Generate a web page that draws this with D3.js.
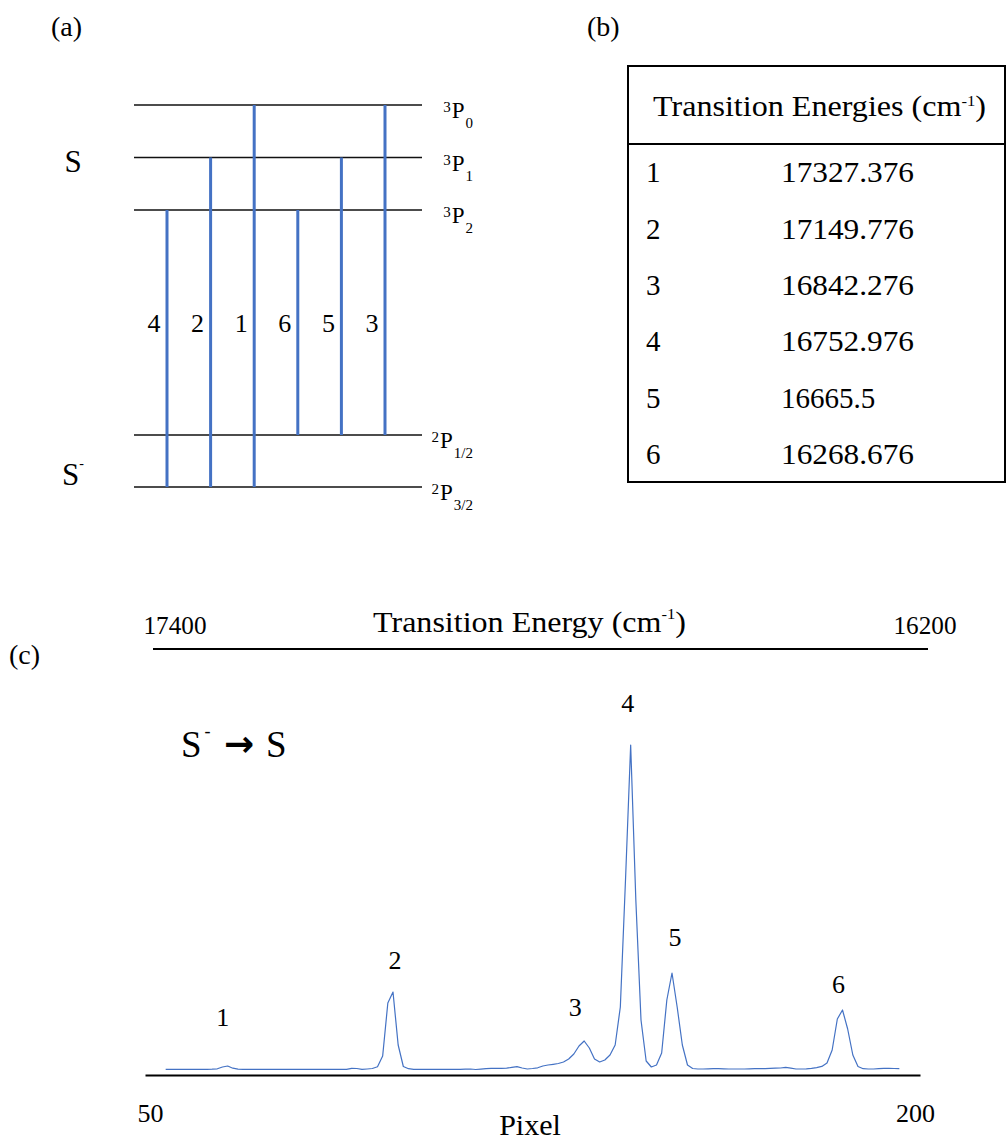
<!DOCTYPE html>
<html>
<head>
<meta charset="utf-8">
<script src="https://cdn.jsdelivr.net/npm/d3@7"></script>
<style>
  html, body { margin: 0; padding: 0; background: #fff; }
  svg text { font-family: "Liberation Serif", "DejaVu Serif", serif; }
  svg text.arrow { font-family: "DejaVu Sans", sans-serif; font-weight: bold; }
</style>
</head>
<body>
<script>
// ---------- data ----------
// Term levels of neutral S (upper) and S- (lower), bottom to top
const neutralTerms = [
  { mult: "3", L: "P", J: "2" },
  { mult: "3", L: "P", J: "1" },
  { mult: "3", L: "P", J: "0" }
];
const anionTerms = [
  { mult: "2", L: "P", J: "3/2" },
  { mult: "2", L: "P", J: "1/2" }
];

// Transitions: lower (anion) level -> upper (neutral) level
const transitionIds   = [1, 2, 3, 4, 5, 6];
const transitionLower = ["3/2", "3/2", "1/2", "3/2", "1/2", "1/2"];
const transitionUpper = ["0", "1", "0", "2", "1", "2"];
const transitionEnergies = ["17327.376", "17149.776", "16842.276", "16752.976", "16665.5", "16268.676"];

// left-to-right order of the arrows in the level diagram
const diagramOrder = [4, 2, 1, 6, 5, 3];

// Detector spectrum: intensity (a.u.) for pixels 54..196
const firstPixel = 54;
const intensity = [
  5.7, 5.7, 5.7, 5.7, 5.7, 5.7, 5.7, 5.7, 5.7, 5.8,
  6.2, 8, 9, 6.8, 5.8,
  5.7, 5.7, 5.7, 5.7, 5.7, 5.7, 5.7, 5.7, 5.7, 5.7, 5.7,
  5.7, 5.7, 5.7, 5.7, 5.7, 5.7, 5.7, 5.7, 5.7, 5.7,
  6.7, 6.5, 5.6, 6, 6.5, 8.3, 19, 72, 83, 30, 8.5, 6.3,
  5.7, 5.6, 5.6, 5.6, 5.6, 5.6, 5.6, 5.6, 5.7, 5.7, 5.8,
  6, 5.5, 5.9, 6.3, 6.7, 6.7, 6.7, 6.8, 7.6, 8.3,
  7, 6, 6.5, 7.2, 9, 10, 10.7, 11.5, 13, 16,
  21, 29, 34, 27, 16, 13, 15, 20, 30, 68,
  195, 330, 175, 55, 14, 8, 10, 22, 75, 102,
  68, 30, 10, 6.5,
  6, 6, 6.2, 6.3, 6.3, 6.2, 6, 6, 6, 6, 6.2, 6.3, 6.4, 6.4, 6.6, 6.8, 7,
  7.6, 6.8, 6, 6, 6.2, 6.6, 7.4, 8.6, 12, 25,
  56, 65, 46, 20, 8.5, 6.3, 6, 6, 6.4, 6.6,
  6.6, 6.5, 6.3
];

// pixel at which each numbered line peaks
const peakPixels = [66, 98, 135, 144, 152, 185];

// axis ticks
const pixelTicks = [50, 200];
const energyTicks = [17400, 16200];

// ---------- drawing ----------
const W = 1006, H = 1142;
const blue = "#4472c4";
const serif = "Liberation Serif, DejaVu Serif, serif";
const svg = d3.select("body").append("svg")
  .attr("width", W).attr("height", H)
  .attr("font-family", serif);
svg.append("rect").attr("width", W).attr("height", H).attr("fill", "#fff");

// panel letters
svg.append("text").attr("x", 51).attr("y", 36).attr("font-size", 28).text("(a)");
svg.append("text").attr("x", 587).attr("y", 36).attr("font-size", 28).text("(b)");
svg.append("text").attr("x", 9).attr("y", 664).attr("font-size", 28).text("(c)");

// ===== (a) energy level diagram =====
const gA = svg.append("g");
const termKey = t => t.J;
const yNeutral = d3.scalePoint().domain(neutralTerms.map(termKey)).range([210, 105]);
const yAnion = d3.scalePoint().domain(anionTerms.map(termKey)).range([487, 435]);
const xTrans = d3.scalePoint().domain(diagramOrder).range([167, 385]);
const levelX0 = 134, levelX1 = 422;

const levels = neutralTerms.map(t => ({ t, y: yNeutral(t.J) }))
  .concat(anionTerms.map(t => ({ t, y: yAnion(t.J) })));

gA.selectAll("line.level").data(levels).join("line")
  .attr("class", "level")
  .attr("x1", levelX0).attr("x2", levelX1)
  .attr("y1", d => d.y).attr("y2", d => d.y)
  .attr("stroke", "#111").attr("stroke-width", 1.5);

// term symbols: superscript multiplicity, L, subscript J
levels.forEach(d => {
  const txt = gA.append("text")
    .attr("x", 473).attr("y", d.y + 13)
    .attr("text-anchor", "end");
  txt.append("tspan").attr("font-size", 15).attr("dy", -6).text(d.t.mult);
  txt.append("tspan").attr("font-size", 23).attr("dy", 6).attr("dx", 1).text(d.t.L);
  txt.append("tspan").attr("font-size", 15).attr("dy", 10).attr("dx", 1).text(d.t.J);
});

// species labels
gA.append("text").attr("x", 73).attr("y", yNeutral("1") + 14)
  .attr("text-anchor", "middle").attr("font-size", 31).text("S");
const sMinus = gA.append("text").attr("x", 62).attr("y", yAnion("3/2") - 2).attr("font-size", 31);
sMinus.append("tspan").text("S");
sMinus.append("tspan").attr("font-size", 14).attr("dy", -17).text("-");

const transitions = transitionIds.map((id, i) => ({
  id, lower: transitionLower[i], upper: transitionUpper[i], energy: transitionEnergies[i]
}));

gA.selectAll("line.trans").data(transitions).join("line")
  .attr("class", "trans")
  .attr("x1", d => xTrans(d.id)).attr("x2", d => xTrans(d.id))
  .attr("y1", d => yAnion(d.lower)).attr("y2", d => yNeutral(d.upper))
  .attr("stroke", blue).attr("stroke-width", 3);

gA.selectAll("text.tnum").data(transitions).join("text")
  .attr("class", "tnum")
  .attr("x", d => xTrans(d.id) - 13).attr("y", 332)
  .attr("text-anchor", "middle").attr("font-size", 26)
  .text(d => d.id);

// ===== (b) table of transition energies =====
const gB = svg.append("g");
const tblX0 = 628, tblX1 = 1005, tblY0 = 66, tblY1 = 482, headY = 144;
gB.append("rect").attr("x", tblX0).attr("y", tblY0)
  .attr("width", tblX1 - tblX0).attr("height", tblY1 - tblY0)
  .attr("fill", "none").attr("stroke", "#000").attr("stroke-width", 2);
gB.append("line").attr("x1", tblX0).attr("x2", tblX1)
  .attr("y1", headY).attr("y2", headY)
  .attr("stroke", "#000").attr("stroke-width", 2);

const head = gB.append("text").attr("x", 653).attr("y", 116).attr("font-size", 29)
  .attr("textLength", 333).attr("lengthAdjust", "spacingAndGlyphs");
head.append("tspan").text("Transition Energies (cm");
head.append("tspan").attr("font-size", 15).attr("dy", -10).text("-1");
head.append("tspan").attr("dy", 10).text(")");

const rowScale = d3.scaleBand().domain(transitionIds).range([headY, tblY1]);
const rows = gB.selectAll("g.row").data(transitions).join("g")
  .attr("class", "row")
  .attr("transform", d => `translate(0,${rowScale(d.id) + rowScale.bandwidth() / 2 + 10})`);
rows.append("text").attr("x", 646).attr("font-size", 29).text(d => d.id);
rows.append("text").attr("x", 781).attr("font-size", 29)
  .attr("textLength", 133).attr("lengthAdjust", "spacingAndGlyphs")
  .text(d => d.energy)
  .each(function (d) { if (d.energy.length < 9) d3.select(this).attr("textLength", null); });

// ===== (c) photodetachment spectrum =====
const gC = svg.append("g");
const xPix = d3.scaleLinear().domain([50, 200]).range([145, 920]);
const yInt = d3.scaleLinear().domain([0, 350]).range([1075, 725]);
const axisY = 1075;

const spectrum = intensity.map((v, i) => ({ p: firstPixel + i, v }));

gC.append("path").datum(spectrum)
  .attr("fill", "none").attr("stroke", blue).attr("stroke-width", 1.2)
  .attr("stroke-linejoin", "round")
  .attr("d", d3.line().x(d => xPix(d.p)).y(d => yInt(d.v)));

// bottom pixel axis
const bottomAxis = gC.append("g").attr("transform", `translate(0,${axisY})`)
  .call(d3.axisBottom(xPix).tickValues(pixelTicks).tickSize(0).tickSizeOuter(0).tickPadding(29));
bottomAxis.attr("font-family", serif);
bottomAxis.select(".domain").attr("stroke", "#000").attr("stroke-width", 2);
bottomAxis.selectAll(".tick text")
  .attr("font-family", serif).attr("font-size", 26).attr("fill", "#000")
  .attr("dx", d => d === 50 ? 5 : -5);
gC.append("text").attr("x", 530).attr("y", 1135).attr("text-anchor", "middle")
  .attr("font-size", 30).text("Pixel");

// top energy scale
const xE = d3.scaleLinear().domain(energyTicks).range([175, 925]);
gC.append("line").attr("x1", 153).attr("x2", 928).attr("y1", 649).attr("y2", 649)
  .attr("stroke", "#000").attr("stroke-width", 2);
gC.selectAll("text.etick").data(energyTicks).join("text")
  .attr("class", "etick")
  .attr("x", d => xE(d)).attr("y", 634)
  .attr("text-anchor", "middle").attr("font-size", 26)
  .attr("textLength", 63).attr("lengthAdjust", "spacingAndGlyphs")
  .text(d => d);
const eTitle = gC.append("text").attr("x", 373).attr("y", 632).attr("font-size", 29)
  .attr("textLength", 313).attr("lengthAdjust", "spacingAndGlyphs");
eTitle.append("tspan").text("Transition Energy (cm");
eTitle.append("tspan").attr("font-size", 15).attr("dy", -13).text("-1");
eTitle.append("tspan").attr("dy", 13).text(")");

// reaction label
const rx = gC.append("text").attr("x", 181).attr("y", 757).attr("font-size", 37);
rx.append("tspan").text("S");
rx.append("tspan").attr("font-size", 18).attr("dy", -20).attr("dx", 3).text("-");
gC.append("text").attr("class", "arrow").attr("x", 239).attr("y", 756)
  .attr("text-anchor", "middle").attr("font-size", 36)
  .text("→");
gC.append("text").attr("x", 266).attr("y", 757).attr("font-size", 37).text("S");

// peak numbers above each line
const labelLift = [40, 23, 25, 33, 27, 17];
const labelShift = [-5, 2, -9, -3, 3, -4];
const peaks = transitionIds.map((id, i) => {
  const p = peakPixels[i];
  return { id, p, v: intensity[p - firstPixel], lift: labelLift[i], shift: labelShift[i] };
});
gC.selectAll("text.peak").data(peaks).join("text")
  .attr("class", "peak")
  .attr("x", d => xPix(d.p) + d.shift)
  .attr("y", d => yInt(d.v) - d.lift)
  .attr("text-anchor", "middle").attr("font-size", 26)
  .text(d => d.id);
</script>
</body>
</html>
